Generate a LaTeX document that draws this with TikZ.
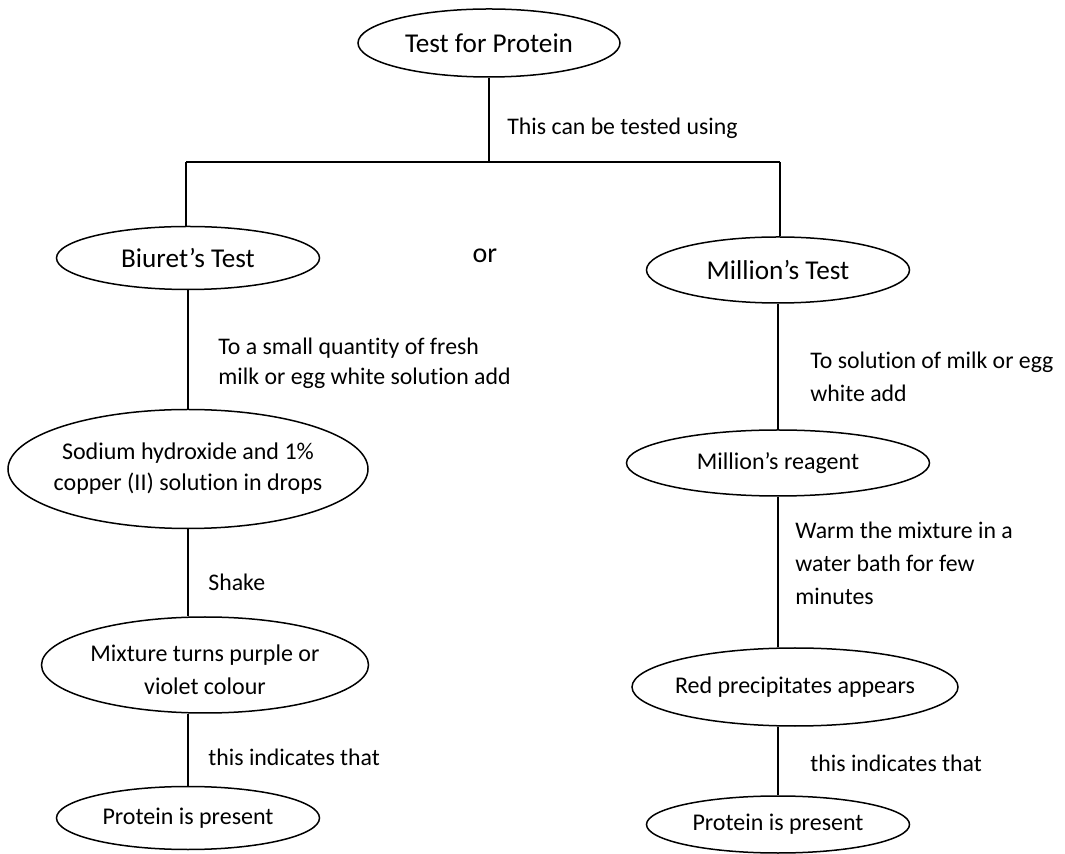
\documentclass[tikz,border=0pt]{standalone}
\usepackage{fontspec}
\setmainfont[Ligatures=NoCommon]{Carlito}
\usetikzlibrary{shapes.geometric}
\begin{document}
\begin{tikzpicture}[x=0.5pt,y=-0.5pt,
  oval/.style={draw, ellipse, line width=0.75pt, inner xsep=-10pt, inner ysep=0pt, align=center, font=\fontsize{12}{15.5}\selectfont},
  bigoval/.style={oval, font=\fontsize{13.6}{16}\selectfont},
  lbl/.style={anchor=west, align=left, inner sep=0pt, font=\fontsize{11.9}{15}\selectfont},
  link/.style={line width=0.8pt}]
\useasboundingbox (0,0) rectangle (1065,854);

% nodes
\node[bigoval, minimum width=131pt, minimum height=34pt] (top) at (489,43) {Test for Protein};
\node[bigoval, minimum width=131.5pt, minimum height=31.5pt] (biuret) at (188,258) {Biuret’s Test};
\node[bigoval, minimum width=131.5pt, minimum height=33pt] (million) at (778,270) {Million’s Test};
\node[oval, minimum width=180pt, minimum height=59.5pt] (sodium) at (188,469) {Sodium hydroxide and 1\%\\copper (II) solution in drops};
\node[oval, minimum width=151.5pt, minimum height=33pt] (reagent) at (778,463) {Million’s reagent};
\node[oval, font=\fontsize{12}{16.5}\selectfont, minimum width=163.5pt, minimum height=48pt] (mixture) at (205,665) {\rule{0pt}{13pt}Mixture turns purple or\\violet colour};
\node[oval, minimum width=163pt, minimum height=39pt] (red) at (795,687) {Red precipitates appears};
\node[oval, minimum width=131.5pt, minimum height=31.5pt] (protL) at (188,818) {Protein is present};
\node[oval, minimum width=131.5pt, minimum height=28.5pt] (protR) at (778,824.5) {Protein is present};

% junction coordinates
\coordinate (hL) at (186,162);
\coordinate (hM) at (489,162);
\coordinate (hR) at (780,162);

% connectors
\draw[link] (top) -- (hM);
\draw[link] (hL) -- (hR);
\draw[link] (hL) -- (hL |- biuret.north);
\draw[link] (hR) -- (hR |- million.north);
\draw[link] (biuret) -- (sodium);
\draw[link] (million) -- (reagent);
\draw[link] (sodium.south) -- (sodium.south |- mixture.north);
\draw[link] (sodium.south |- mixture.south) -- (protL.north);
\draw[link] (reagent.south) -- (reagent.south |- red.north);
\draw[link] (protR.north |- red.south) -- (protR.north);

% labels
\node[lbl] (l1) at (507,128) {This can be tested using};
\node[font=\fontsize{14}{16}\selectfont, inner sep=0pt] (or) at (485,256) {or};
\node[lbl] (l2) at (218,363) {To a small quantity of fresh\\milk or egg white solution add};
\node[lbl, font=\fontsize{11.9}{16.5}\selectfont] (l3) at (810,376.5) {To solution of milk or egg\\white add};
\node[lbl, font=\fontsize{11.9}{16.5}\selectfont] (l4) at (795,563) {Warm the mixture in a\\water bath for few\\minutes};
\node[lbl] (l5) at (208,582) {Shake};
\node[lbl] (l6) at (208,757) {this indicates that};
\node[lbl] (l7) at (810,763) {this indicates that};
\end{tikzpicture}
\end{document}
